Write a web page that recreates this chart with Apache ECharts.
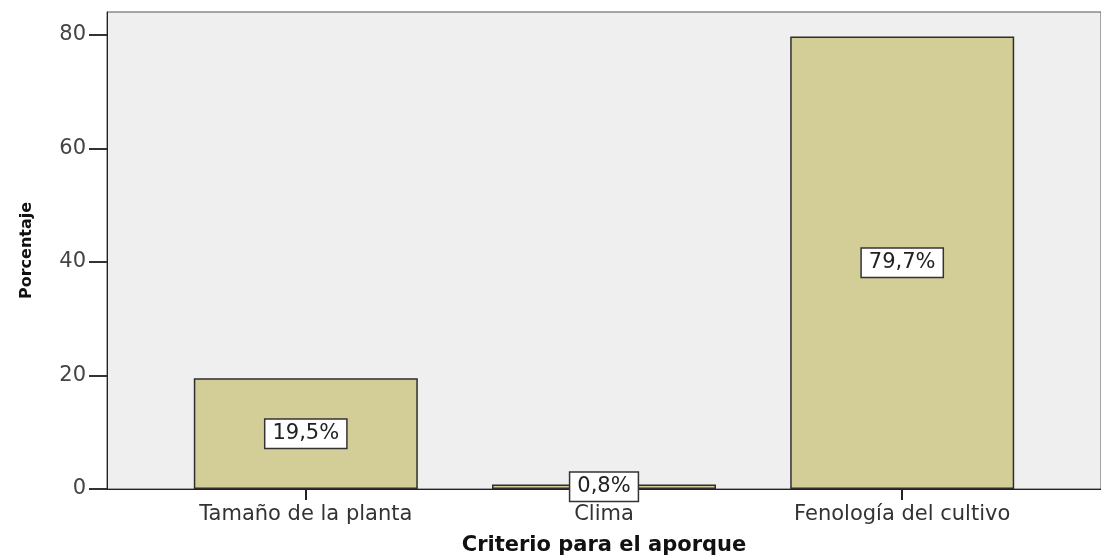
<!DOCTYPE html>
<html>
<head>
<meta charset="utf-8">
<script src="https://cdn.jsdelivr.net/npm/echarts@6.0.0/dist/echarts.min.js"></script>
<style>
  html, body { margin: 0; padding: 0; background: #fff; }
  #chart { width: 1101px; height: 555px; }
</style>
</head>
<body>
<div id="chart"></div>
<script>
// categories along the x axis
const categories = ["Tamaño de la planta", "Clima", "Fenología del cultivo"];
// percentage of cases per category
const percentages = [19.5, 0.8, 79.7];
// y axis tick values
const yTicks = [0, 20, 40, 60, 80];

const font = "DejaVu Sans";
const catIndex = categories.map((c, i) => i);

// bars sit on a value axis so the outer padding matches the original layout
const barData = percentages.map((v, i) => [i, v]);

const chart = echarts.init(document.getElementById("chart"), null, {
  renderer: "canvas",
});

chart.setOption({
  animation: false,
  grid: {
    left: 107,
    right: 0,
    top: 12,
    bottom: 66,
    outerBoundsMode: "none",
    containLabel: false,
    show: true,
    backgroundColor: "#efefef",
    borderColor: "#555",
    borderWidth: 1,
  },
  xAxis: {
    type: "value",
    min: -2 / 3,
    max: 8 / 3,
    name: "Criterio para el aporque",
    nameLocation: "middle",
    nameGap: 46,
    nameTextStyle: {
      fontFamily: font,
      fontWeight: "bold",
      fontSize: 21,
      color: "#111",
    },
    axisLine: { show: true, onZero: false, lineStyle: { color: "#222", width: 1 } },
    axisTick: {
      show: true,
      length: 11,
      customValues: catIndex,
      lineStyle: { color: "#222", width: 2 },
    },
    axisLabel: {
      customValues: catIndex,
      margin: 15,
      fontFamily: font,
      fontSize: 21,
      color: "#333",
      formatter: (v) => categories[Math.round(v)],
    },
    splitLine: { show: false },
  },
  yAxis: {
    type: "value",
    min: 0,
    max: 84,
    name: "Porcentaje",
    nameLocation: "middle",
    nameGap: 72,
    nameTextStyle: {
      fontFamily: font,
      fontWeight: "bold",
      fontSize: 16,
      color: "#111",
    },
    axisLine: { show: true, onZero: false, lineStyle: { color: "#222", width: 1 } },
    axisTick: {
      show: true,
      length: 18,
      customValues: yTicks,
      lineStyle: { color: "#333", width: 2 },
    },
    axisLabel: {
      customValues: yTicks,
      margin: 21,
      fontFamily: font,
      fontSize: 21,
      color: "#444",
    },
    splitLine: { show: false },
  },
  series: [
    {
      type: "bar",
      data: barData,
      barWidth: 224,
      itemStyle: {
        color: "#d3ce97",
        borderColor: "#2e2e2e",
        borderWidth: 1.5,
      },
      label: {
        show: true,
        position: "inside",
        fontFamily: font,
        fontSize: 21,
        lineHeight: 22,
        color: "#222",
        backgroundColor: "#fff",
        borderColor: "#333",
        borderWidth: 1.5,
        padding: [3, 7],
        formatter: (p) => p.value[1].toFixed(1).replace(".", ",") + "%",
      },
    },
  ],
});

window.addEventListener("resize", chart.resize);
</script>
</body>
</html>
